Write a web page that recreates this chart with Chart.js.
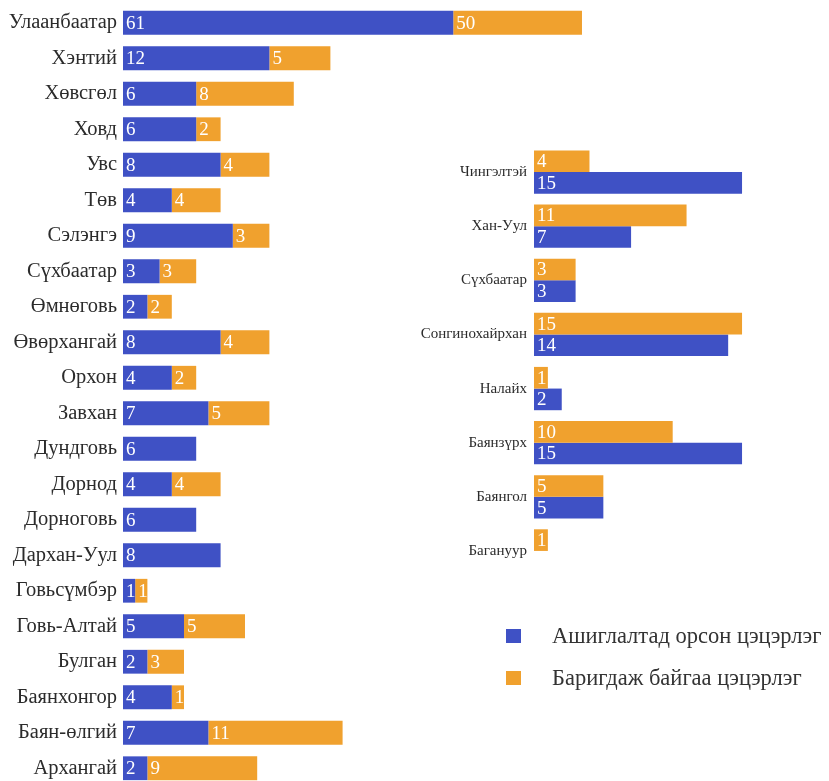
<!DOCTYPE html>
<html>
<head>
<meta charset="utf-8">
<script src="https://cdn.jsdelivr.net/npm/chart.js@4.4.1/dist/chart.umd.min.js"></script>
<style>
  html, body { margin: 0; padding: 0; background: #fff; overflow: hidden; width: 829px; height: 781px; }
  #aimagChart { position: absolute; left: 0; top: 5px; }
  #districtChart { position: absolute; left: 420px; top: 145px; }
  .legend { position: absolute; left: 506px; font: 22.5px "Liberation Serif", serif; color: #333; white-space: nowrap; }
  .legend div { position: relative; height: 42px; line-height: 14px; padding-left: 46px; }
  .legend span { position: absolute; left: 0; top: 0; width: 15px; height: 14px; }
</style>
</head>
<body>
<canvas id="aimagChart" width="600" height="781"></canvas>
<canvas id="districtChart" width="409" height="433"></canvas>
<div class="legend" style="top: 629px;">
  <div><span style="background:#3f51c5"></span>Ашиглалтад орсон цэцэрлэг</div>
  <div><span style="background:#f0a12e"></span>Баригдаж байгаа цэцэрлэг</div>
</div>
<script>
const seriesNames = ["Ашиглалтад орсон цэцэрлэг", "Баригдаж байгаа цэцэрлэг"];
const blue = "#3f51c5";
const orange = "#f0a12e";

// aimags (left chart)
const aimags = ["Улаанбаатар", "Хэнтий", "Хөвсгөл", "Ховд", "Увс", "Төв", "Сэлэнгэ", "Сүхбаатар",
  "Өмнөговь", "Өвөрхангай", "Орхон", "Завхан", "Дундговь", "Дорнод", "Дорноговь", "Дархан-Уул",
  "Говьсүмбэр", "Говь-Алтай", "Булган", "Баянхонгор", "Баян-өлгий", "Архангай"];
const aimagInUse = [61, 12, 6, 6, 8, 4, 9, 3, 2, 8, 4, 7, 6, 4, 6, 8, 1, 5, 2, 4, 7, 2];
const aimagBuilding = [50, 5, 8, 2, 4, 4, 3, 3, 2, 4, 2, 5, null, 4, null, null, 1, 5, 3, 1, 11, 9];

// Ulaanbaatar districts (right chart)
const districts = ["Чингэлтэй", "Хан-Уул", "Сүхбаатар", "Сонгинохайрхан", "Налайх", "Баянзүрх", "Баянгол", "Багануур"];
const districtBuilding = [4, 11, 3, 15, 1, 10, 5, 1];
const districtInUse = [15, 7, 3, 14, 2, 15, 5, null];

// axis break on the left chart: values past 18 are compressed
const BREAK_AT = 18;
const BREAK_SLOPE = 0.211;
const squash = v => v <= BREAK_AT ? v : BREAK_AT + (v - BREAK_AT) * BREAK_SLOPE;

const LinearScale = Chart.registry.getScale("linear");
class BrokenScale extends LinearScale {
  getPixelForValue(value) {
    return super.getPixelForValue(squash(value));
  }
}
BrokenScale.id = "broken";
BrokenScale.defaults = LinearScale.defaults;
Chart.register(BrokenScale);

const valueLabels = {
  id: "valueLabels",
  afterDatasetsDraw(chart, args, opts) {
    const ctx = chart.ctx;
    ctx.save();
    ctx.font = opts.font;
    ctx.fillStyle = "#fff";
    ctx.textAlign = "left";
    ctx.textBaseline = "middle";
    chart.data.datasets.forEach((ds, i) => {
      chart.getDatasetMeta(i).data.forEach((bar, j) => {
        const v = ds.data[j];
        if (!v) return;
        ctx.fillText(v, Math.min(bar.x, bar.base) + 3, bar.y + 1);
      });
    });
    ctx.restore();
  }
};

const serif = '"Liberation Serif", "Times New Roman", serif';

new Chart(document.getElementById("aimagChart"), {
  type: "bar",
  data: {
    labels: aimags,
    datasets: [
      { label: seriesNames[0], data: aimagInUse, backgroundColor: blue },
      { label: seriesNames[1], data: aimagBuilding, backgroundColor: orange },
    ],
  },
  options: {
    indexAxis: "y",
    responsive: false,
    animation: false,
    devicePixelRatio: 1,
    categoryPercentage: 1,
    barPercentage: 0.67,
    layout: { padding: 0 },
    scales: {
      x: { type: "broken", stacked: true, min: 0, max: 39.1, display: false },
      y: {
        stacked: true,
        grid: { display: false, drawTicks: false },
        border: { display: false },
        ticks: { color: "#2b2b2b", padding: 6, font: { family: serif, size: 20.5 } },
        afterFit(scale) {
          scale.width = 123;
          scale.paddingTop = 0;
          scale.paddingBottom = 0;
        },
      },
    },
    plugins: {
      legend: { display: false },
      tooltip: { enabled: false },
      valueLabels: { font: "19px " + serif },
    },
  },
  plugins: [valueLabels],
});

new Chart(document.getElementById("districtChart"), {
  type: "bar",
  data: {
    labels: districts,
    datasets: [
      { label: seriesNames[1], data: districtBuilding, backgroundColor: orange },
      { label: seriesNames[0], data: districtInUse, backgroundColor: blue },
    ],
  },
  options: {
    indexAxis: "y",
    responsive: false,
    animation: false,
    devicePixelRatio: 1,
    categoryPercentage: 0.8,
    barPercentage: 1,
    layout: { padding: 0 },
    scales: {
      x: { min: 0, max: 21.27, display: false },
      y: {
        grid: { display: false, drawTicks: false },
        border: { display: false },
        ticks: { color: "#2b2b2b", padding: 7, font: { family: serif, size: 15 } },
        afterFit(scale) {
          scale.width = 114;
          scale.paddingTop = 0;
          scale.paddingBottom = 0;
        },
      },
    },
    plugins: {
      legend: { display: false },
      tooltip: { enabled: false },
      valueLabels: { font: "19px " + serif },
    },
  },
  plugins: [valueLabels],
});
</script>
</body>
</html>
